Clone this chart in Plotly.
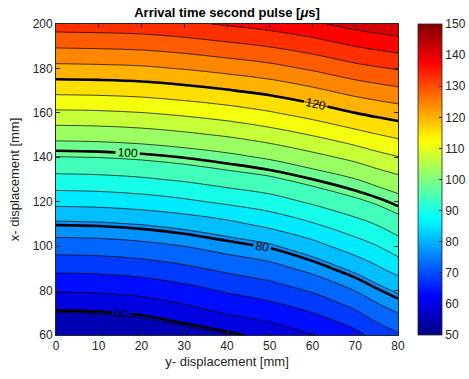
import plotly.graph_objects as go

# y-displacement (horizontal axis) [mm]
y_disp = [0, 10, 20, 30, 40, 50, 60, 70, 75, 80]
# x-displacement (vertical axis) [mm]
x_disp = [60, 70, 80, 90, 100, 110, 120, 130, 140, 150, 160, 170, 180, 190, 200]

# arrival time [us] per y-displacement column, listed along x_disp
t_y00 = [55.5, 59.5, 64.1, 69.2, 74.5, 80.3, 86.8, 92.6, 98.2, 104.3, 110.5, 116.8, 123.0, 129.1, 135.1]
t_y10 = [55.7, 59.75, 64.35, 69.45, 74.75, 80.55, 87.05, 92.85, 98.45, 104.5, 110.7, 117.0, 123.2, 129.3, 135.3]
t_y20 = [56.4, 60.45, 65.07, 70.18, 75.5, 81.3, 87.76, 93.5, 99.05, 105.1, 111.23, 117.46, 123.6, 129.65, 135.6]
t_y30 = [57.7, 62.1, 66.6, 71.6, 76.8, 82.55, 88.95, 94.6, 100.1, 106.13, 112.23, 118.43, 124.55, 130.55, 136.5]
t_y40 = [59.2, 64.15, 68.6, 73.5, 78.65, 84.3, 90.55, 96.1, 101.5, 107.45, 113.5, 119.7, 125.8, 131.8, 137.7]
t_y50 = [61.25, 65.68, 70.37, 75.2, 80.46, 86.67, 92.19, 97.53, 103.29, 109.23, 115.26, 121.23, 127.2, 133.1, 139.0]
t_y60 = [63.64, 68.13, 72.91, 78.15, 83.81, 89.41, 94.73, 99.94, 105.66, 111.5, 117.48, 123.37, 129.22, 134.98, 140.8]
t_y70 = [66.9, 71.74, 76.88, 82.25, 87.73, 92.6, 97.42, 102.53, 108.2, 114.09, 120.0, 125.81, 131.56, 137.32, 143.08]
t_y75 = [69.73, 74.5, 79.49, 84.72, 89.58, 94.28, 98.99, 104.3, 109.82, 115.41, 121.08, 126.78, 132.46, 138.22, 143.98]
t_y80 = [71.85, 76.82, 81.8, 87.26, 92.02, 96.41, 100.88, 105.85, 111.13, 116.55, 122.01, 127.64, 133.3, 139.0, 144.7]

cbar_ticks = [50, 60, 70, 80, 90, 100, 110, 120, 130, 140, 150]
x_ticks = [0, 10, 20, 30, 40, 50, 60, 70, 80]
y_ticks = [60, 80, 100, 120, 140, 160, 180, 200]
labeled_levels = [60, 80, 100, 120]

cols = [t_y00, t_y10, t_y20, t_y30, t_y40, t_y50, t_y60, t_y70, t_y75, t_y80]
z = [list(r) for r in zip(*cols)]

CMIN, CMAX = 50, 150
LV_START, LV_STEP, LV_END = 55.18, 4.32, 146.0


def jet(t):
    t = min(1.0, max(0.0, t))
    r = min(1.0, max(0.0, 1.5 - abs(4 * t - 3)))
    g = min(1.0, max(0.0, 1.5 - abs(4 * t - 2)))
    b = min(1.0, max(0.0, 1.5 - abs(4 * t - 1)))
    return "rgb(%d,%d,%d)" % (round(r * 255), round(g * 255), round(b * 255))


# discrete fill scale: each band coloured by its lower level (MATLAB contourf style)
nc = int((LV_END - LV_START) // LV_STEP) + 1
fill_scale = [[0.0, jet((LV_START - LV_STEP - CMIN) / (CMAX - CMIN))]]
for j in range(nc):
    lvl = LV_START + j * LV_STEP
    fill_scale.append([(j + 1) / nc, jet((lvl - CMIN) / (CMAX - CMIN))])

jet_scale = [[i / 63, jet(i / 63)] for i in range(64)]

FONT = "Liberation Sans, Arial, sans-serif"
GREY = "#262626"

fig = go.Figure()

fig.add_trace(go.Contour(
    x=y_disp, y=x_disp, z=z,
    autocontour=False,
    contours=dict(start=LV_START, end=LV_END, size=LV_STEP, coloring="fill"),
    colorscale=fill_scale,
    line=dict(color="black", width=0.7, smoothing=1),
    showscale=False, hoverinfo="skip",
))

fig.add_trace(go.Contour(
    x=y_disp, y=x_disp, z=z,
    autocontour=False,
    contours=dict(start=labeled_levels[0], end=labeled_levels[-1],
                  size=labeled_levels[1] - labeled_levels[0],
                  coloring="none", showlabels=True,
                  labelfont=dict(size=12, color="black", family=FONT)),
    line=dict(color="black", width=2.6, smoothing=1),
    showscale=False, hoverinfo="skip",
))

# colour bar (continuous jet, 50..150)
fig.add_trace(go.Scatter(
    x=[None, None], y=[None, None], mode="markers", hoverinfo="skip",
    marker=dict(color=[CMIN, CMAX], cmin=CMIN, cmax=CMAX, colorscale=jet_scale,
                showscale=True,
                colorbar=dict(thickness=24, thicknessmode="pixels", len=1, lenmode="fraction",
                              x=(418 - 56) / 342, xanchor="left", y=0.5, yanchor="middle",
                              xpad=0, ypad=0, outlinewidth=0.8, outlinecolor=GREY,
                              ticks="inside", ticklen=3, tickwidth=0.8, tickcolor=GREY,
                              tickvals=cbar_ticks, tickfont=dict(size=12, color=GREY, family=FONT))),
    showlegend=False,
))

axis_common = dict(showline=True, linecolor=GREY, linewidth=0.8, mirror="ticks",
                   ticks="inside", ticklen=4, tickwidth=0.8, tickcolor=GREY,
                   showgrid=False, zeroline=False,
                   tickfont=dict(size=12, color=GREY, family=FONT))

fig.update_layout(
    width=469, height=379,
    margin=dict(l=56, r=71, t=24, b=44, autoexpand=False),
    paper_bgcolor="white", plot_bgcolor="white",
    font=dict(family=FONT, color=GREY),
    showlegend=False,
    title=dict(text="<b>Arrival time second pulse [<i>μ</i>s]</b>",
               x=0.5, xref="paper", xanchor="center",
               y=1 - 12 / 379, yref="container", yanchor="middle",
               font=dict(size=13, color="black", family=FONT)),
    xaxis=dict(range=[0, 80], tickvals=x_ticks,
               title=dict(text="y- displacement [mm]", standoff=4,
                          font=dict(size=13, color=GREY, family=FONT)),
               **axis_common),
    yaxis=dict(range=[60, 200], tickvals=y_ticks,
               title=dict(text="x- displacement [mm]", standoff=10,
                          font=dict(size=13, color=GREY, family=FONT)),
               **axis_common),
)

fig.write_html("out.html")
